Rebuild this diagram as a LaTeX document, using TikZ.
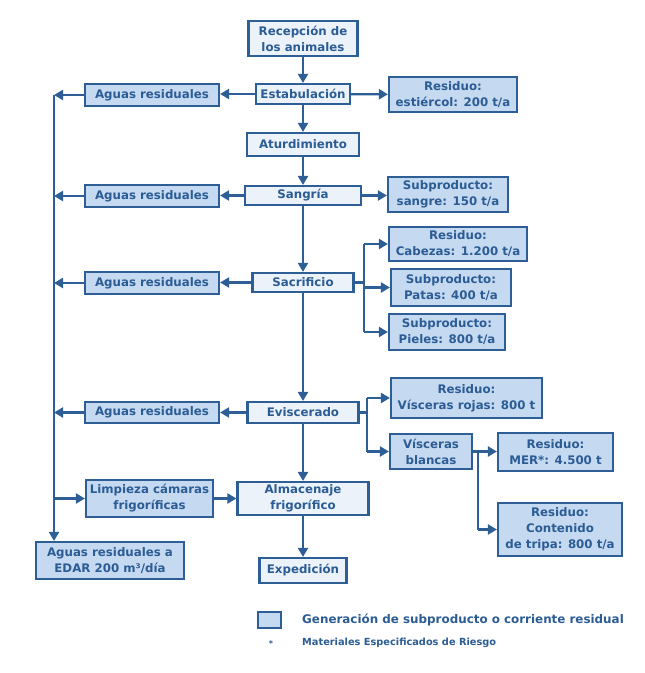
\documentclass[tikz,border=0pt]{standalone}
\usepackage{fontspec}
\setmainfont{DejaVu Sans}
\usetikzlibrary{arrows.meta}
\definecolor{bc}{HTML}{2E5E96}
\definecolor{tc}{HTML}{2B5C94}
\definecolor{gfill}{HTML}{C5D9F1}
\definecolor{pfill}{HTML}{EBF2FA}
\tikzset{
  box/.style={draw=bc, line width=2.2pt, text=tc, font=\bfseries\fontsize{11.8}{16}\selectfont, align=center, inner sep=0pt},
  proc/.style={box, fill=pfill},
  gen/.style={box, fill=gfill},
  conn/.style={draw=bc, line width=2.2pt},
  arr/.style={conn, -{Triangle[length=9pt,width=10pt]}},
}
\begin{document}
\begin{tikzpicture}[x=1pt,y=-1pt]
\useasboundingbox (0,0) rectangle (645,673);
% main column
\node[proc, minimum width=109, minimum height=35] (rec) at (303,38.5) {Recepción de\\los animales};
\node[proc, minimum width=94, minimum height=20] (est) at (303,94) {Estabulación};
\node[proc, minimum width=112, minimum height=23] (atu) at (303,144.5) {Aturdimiento};
\node[proc, minimum width=116, minimum height=19] (san) at (303,195.5) {Sangría};
\node[proc, minimum width=101, minimum height=19] (sac) at (303,282.5) {Sacrificio};
\node[proc, minimum width=111, minimum height=21] (evi) at (303,412.5) {Eviscerado};
\node[proc, minimum width=131, minimum height=33] (alm) at (303,498.5) {Almacenaje\\frigorífico};
\node[proc, minimum width=87, minimum height=25] (exp) at (303,570.5) {Expedición};
% right side
\node[gen, minimum width=128, minimum height=35] (estR) at (453,94.5) {Residuo:\\estiércol: 200 t/a};
\node[gen, minimum width=120, minimum height=35] (sanR) at (448,194.5) {Subproducto:\\sangre: 150 t/a};
\node[gen, minimum width=138, minimum height=34] (cab) at (458,244) {Residuo:\\Cabezas: 1.200 t/a};
\node[gen, minimum width=120, minimum height=37] (pat) at (451,287.5) {Subproducto:\\Patas: 400 t/a};
\node[gen, minimum width=116, minimum height=36] (pie) at (447,332) {Subproducto:\\Pieles: 800 t/a};
\node[gen, minimum width=151, minimum height=40] (roj) at (466.5,398) {Residuo:\\Vísceras rojas: 800 t};
\node[gen, minimum width=82, minimum height=35] (bla) at (431,451.5) {Vísceras\\blancas};
\node[gen, minimum width=115, minimum height=38] (mer) at (555.5,452) {Residuo:\\MER*: 4.500 t};
\node[gen, minimum width=124, minimum height=53] (con) at (560,529.5) {Residuo:\\Contenido\\de tripa: 800 t/a};
% left side
\node[gen, minimum width=134, minimum height=22] (ag1) at (152,95) {Aguas residuales};
\node[gen, minimum width=134, minimum height=22] (ag2) at (152,196) {Aguas residuales};
\node[gen, minimum width=134, minimum height=22] (ag3) at (152,283) {Aguas residuales};
\node[gen, minimum width=134, minimum height=21] (ag4) at (152,412.5) {Aguas residuales};
\node[gen, minimum width=127, minimum height=37] (lim) at (149.5,498.5) {Limpieza cámaras\\frigoríficas};
\node[gen, minimum width=148, minimum height=37] (edar) at (110,560.5) {Aguas residuales a\\EDAR 200 m³/día};
% coordinates
\coordinate (t0) at (54,95);
\coordinate (tl) at (54,498.5);
\coordinate (b1) at (364,282.5);
\coordinate (b1t) at (364,244);
\coordinate (b1b) at (364,332);
\coordinate (b2) at (367,412.5);
\coordinate (b2t) at (367,398);
\coordinate (b2b) at (367,451.5);
\coordinate (b3) at (478,451.5);
\coordinate (b3b) at (478,529.5);
% main flow
\draw[arr] (rec) -- (est);
\draw[arr] (est) -- (atu);
\draw[arr] (atu) -- (san);
\draw[arr] (san) -- (sac);
\draw[arr] (sac) -- (evi);
\draw[arr] (evi) -- (alm);
\draw[arr] (alm) -- (exp);
% right flows
\draw[arr] (est) -- (estR);
\draw[arr] (san.east) -- (san.east -| sanR.west);
\draw[conn] (sac.east) -- (b1);
\draw[conn] (b1t) -- (b1b);
\draw[arr] (b1t) -- (b1t -| cab.west);
\draw[arr] (b1 |- pat) -- (pat.west);
\draw[arr] (b1b) -- (b1b -| pie.west);
\draw[conn] (evi.east) -- (b2);
\draw[conn] (b2t) -- (b2b);
\draw[arr] (b2t) -- (b2t -| roj.west);
\draw[arr] (b2b) -- (bla.west);
\draw[conn] (bla.east) -- (b3);
\draw[arr] (b3) -- (b3 -| mer.west);
\draw[conn] (b3) -- (b3b);
\draw[arr] (b3b) -- (b3b -| con.west);
% left flows
\draw[arr] (est.west) -- (est.west -| ag1.east);
\draw[arr] (san.west) -- (san.west -| ag2.east);
\draw[arr] (sac.west) -- (sac.west -| ag3.east);
\draw[arr] (evi.west) -- (ag4.east);
\draw[arr] (ag1.west) -- (t0);
\draw[arr] (ag2.west) -- (ag2.west -| t0);
\draw[arr] (ag3.west) -- (ag3.west -| t0);
\draw[arr] (ag4.west) -- (ag4.west -| t0);
\draw[arr] (t0) -- (t0 |- edar.north);
\draw[arr] (tl) -- (lim.west);
\draw[arr] (lim) -- (alm);
% legend
\node[gen, minimum width=23, minimum height=16] (lg) at (269.5,620) {};
\node[anchor=west, text=tc, font=\bfseries\fontsize{11.9}{13}\selectfont, inner sep=0pt] (lgt) at (302,620) {Generación de subproducto o corriente residual};
\node[text=tc, font=\bfseries\fontsize{8}{10}\selectfont, inner sep=0pt] (ast) at (271,644) {*};
\node[anchor=west, text=tc, font=\bfseries\fontsize{9.8}{11}\selectfont, inner sep=0pt] (lgm) at (302,643) {Materiales Especificados de Riesgo};
\end{tikzpicture}
\end{document}
